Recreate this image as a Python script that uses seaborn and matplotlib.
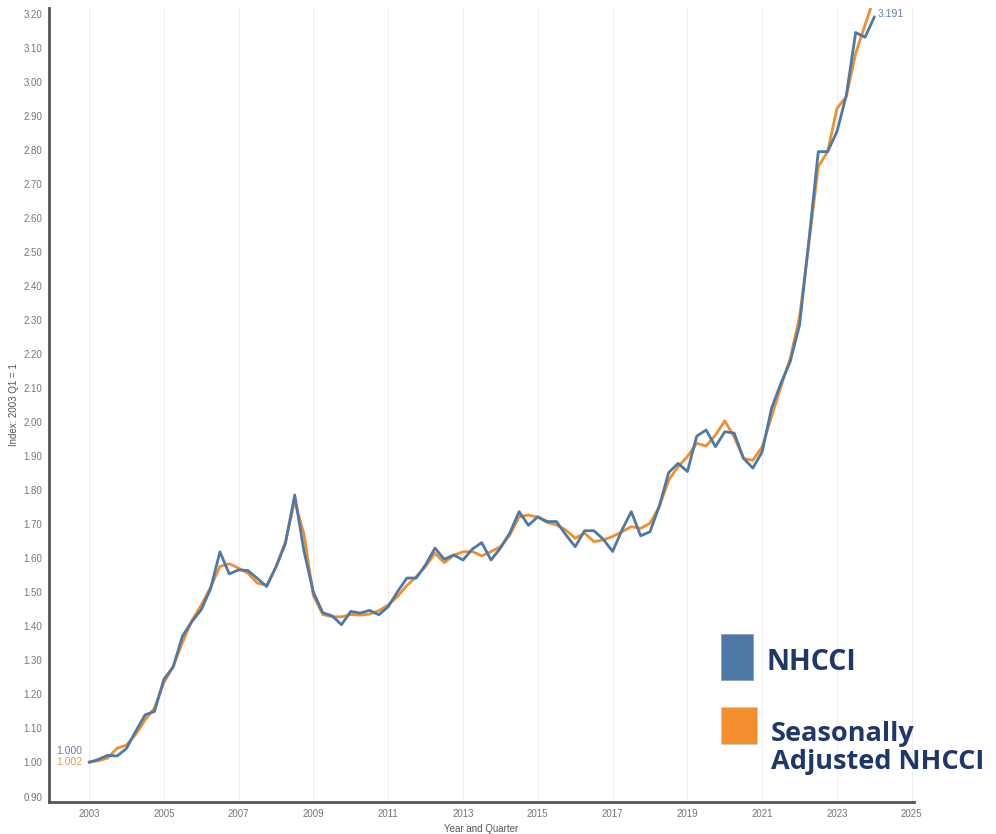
import numpy as np
import pandas as pd
import matplotlib
matplotlib.use("Agg")
import matplotlib.pyplot as plt
import seaborn as sns
from matplotlib.patches import Rectangle

# ---- data -------------------------------------------------------------
start_year = 2003
n_quarters = 85  # 2003 Q1 .. 2024 Q1

nhcci = [1.000, 1.009, 1.021, 1.019, 1.041, 1.092, 1.140, 1.150, 1.244, 1.281,
         1.372, 1.414, 1.449, 1.510, 1.619, 1.554, 1.566, 1.564, 1.541, 1.517,
         1.575, 1.643, 1.786, 1.620, 1.500, 1.440, 1.431, 1.405, 1.444, 1.439,
         1.447, 1.434, 1.458, 1.502, 1.542, 1.542, 1.581, 1.630, 1.597, 1.610,
         1.595, 1.627, 1.646, 1.595, 1.630, 1.674, 1.737, 1.697, 1.722, 1.708,
         1.708, 1.669, 1.634, 1.681, 1.681, 1.656, 1.620, 1.683, 1.737, 1.666,
         1.678, 1.754, 1.852, 1.879, 1.855, 1.959, 1.977, 1.928, 1.972, 1.968,
         1.894, 1.865, 1.913, 2.041, 2.114, 2.178, 2.286, 2.535, 2.795, 2.795,
         2.854, 2.961, 3.145, 3.131, 3.191]

nhcci_sa = [1.002, 1.005, 1.013, 1.042, 1.051, 1.083, 1.125, 1.160, 1.234, 1.282,
            1.353, 1.417, 1.462, 1.515, 1.576, 1.584, 1.571, 1.556, 1.527, 1.521,
            1.575, 1.648, 1.768, 1.670, 1.490, 1.435, 1.428, 1.428, 1.435, 1.433,
            1.436, 1.446, 1.463, 1.488, 1.520, 1.546, 1.576, 1.615, 1.587, 1.609,
            1.619, 1.620, 1.607, 1.620, 1.634, 1.668, 1.722, 1.727, 1.721, 1.705,
            1.698, 1.683, 1.659, 1.674, 1.649, 1.654, 1.664, 1.678, 1.693, 1.688,
            1.703, 1.752, 1.830, 1.869, 1.899, 1.938, 1.930, 1.962, 2.004, 1.957,
            1.893, 1.888, 1.928, 2.016, 2.104, 2.188, 2.310, 2.526, 2.751, 2.795,
            2.922, 2.957, 3.084, 3.167, 3.250]

x_ticks = list(range(2003, 2026, 2))
y_ticks = [round(0.9 + 0.1 * k, 2) for k in range(24)]

series_names = ["NHCCI", "Seasonally\nAdjusted NHCCI"]
colors = {"NHCCI": "#4e79a7", "SA": "#f28e2b"}

t = [start_year + q / 4 for q in range(n_quarters)]
df = pd.DataFrame({"t": t, "NHCCI": nhcci, "SA": nhcci_sa})

# ---- figure -----------------------------------------------------------
sns.set_theme(style="white")
plt.rcParams["font.family"] = ["Liberation Sans", "DejaVu Sans"]

fig = plt.figure(figsize=(9.96, 8.34), dpi=100)
ax = fig.add_axes([0.0492, 0.0384, 0.8685, 0.952])

sns.lineplot(data=df, x="t", y="SA", ax=ax, color=colors["SA"], lw=2.0, legend=False)
sns.lineplot(data=df, x="t", y="NHCCI", ax=ax, color=colors["NHCCI"], lw=2.0, legend=False)

ax.set_xlim(2001.93, 2025.06)
ax.set_ylim(0.884, 3.217)
ax.set_xticks(x_ticks)
ax.set_xticklabels([str(v) for v in x_ticks], fontsize=7, color="#777777")
ax.set_yticks(y_ticks)
ax.set_yticklabels([f"{v:.2f}" for v in y_ticks], fontsize=7, color="#777777")
ax.tick_params(axis="both", length=0, pad=5)
ax.xaxis.grid(True, color="#eeeeee", lw=0.8)
ax.yaxis.grid(False)

for s in ["top", "right"]:
    ax.spines[s].set_visible(False)
for s in ["left", "bottom"]:
    ax.spines[s].set_color("#555555")
    ax.spines[s].set_linewidth(2)

ax.set_xlabel("Year and Quarter", fontsize=7, color="#555555", labelpad=4)
ax.set_ylabel("Index: 2003 Q1 = 1", fontsize=7, color="#555555", labelpad=3)

# value labels
ax.annotate(f"{nhcci[0]:.3f}", (df["t"].iloc[0], nhcci[0]), xytext=(-5, 8),
            textcoords="offset points", ha="right", va="center",
            fontsize=7.5, color="#6a7f9f")
ax.annotate(f"{nhcci_sa[0]:.3f}", (df["t"].iloc[0], nhcci_sa[0]), xytext=(-5, 0),
            textcoords="offset points", ha="right", va="center",
            fontsize=7.5, color="#e0a050")
ax.annotate(f"{nhcci[-1]:.3f}", (df["t"].iloc[-1], nhcci[-1]), xytext=(2, 2),
            textcoords="offset points", ha="left", va="center",
            fontsize=7.5, color="#6a7f9f", annotation_clip=False)

# legend (custom)
navy = "#1f3868"
fig.patches.append(Rectangle((721 / 996, 1 - 680 / 834), 32 / 996, 46 / 834,
                             transform=fig.transFigure, facecolor=colors["NHCCI"],
                             edgecolor="#8899aa", lw=0.5))
fig.patches.append(Rectangle((721 / 996, 1 - 744 / 834), 36 / 996, 37 / 834,
                             transform=fig.transFigure, facecolor=colors["SA"],
                             edgecolor="#cccccc", lw=0.5))
fig.text(766 / 996, 1 - 663 / 834, series_names[0], fontsize=20.5, fontweight="bold",
         family="Open Sans", color=navy, va="center", ha="left")
fig.text(771 / 996, 1 - 748 / 834, series_names[1], fontsize=19.5, fontweight="bold",
         family="Open Sans", color=navy, va="center", ha="left", linespacing=1.1)

fig.savefig("out.png", dpi=100)
